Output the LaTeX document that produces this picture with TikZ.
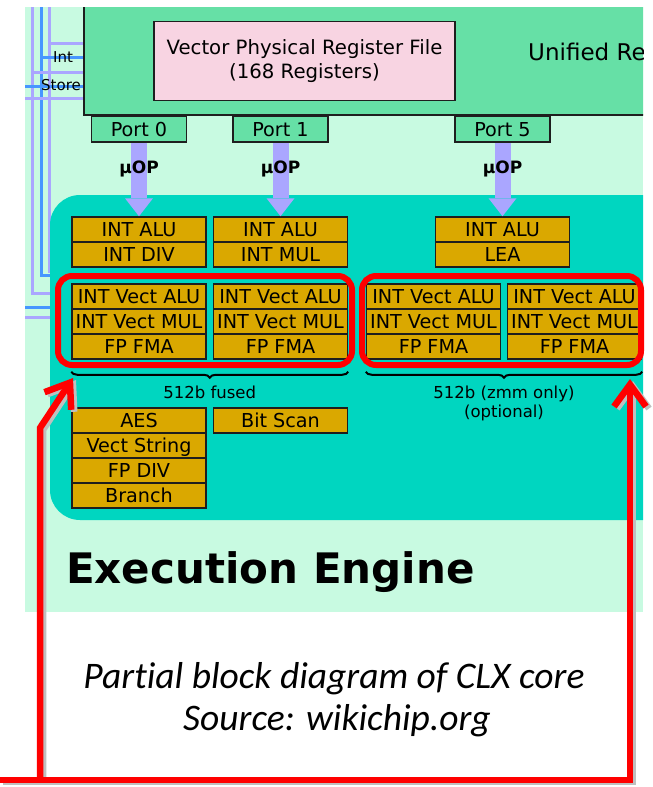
\documentclass[tikz,border=0pt]{standalone}
\usepackage{fontspec}
\setmainfont{DejaVu Sans}
\newfontfamily\captionfont[Ligatures=NoCommon]{Carlito}
\usetikzlibrary{arrows.meta,decorations.pathreplacing}

\definecolor{mint}{RGB}{200,250,225}
\definecolor{rfgreen}{RGB}{102,224,166}
\definecolor{rfpink}{RGB}{248,212,226}
\definecolor{engine}{RGB}{0,214,192}
\definecolor{gold}{RGB}{218,168,0}
\definecolor{lav}{RGB}{170,166,255}
\definecolor{busblue}{RGB}{70,150,255}
\definecolor{boxline}{RGB}{30,30,30}

\tikzset{
  unit/.style={draw=boxline, fill=gold, line width=1.5pt, minimum width=134pt,
    minimum height=25pt, inner sep=0pt, text height=14pt, text depth=0pt,
    font=\fontsize{19.2}{20}\selectfont},
  port/.style={draw=boxline, fill=rfgreen, line width=1.5pt, minimum width=95pt,
    minimum height=26pt, inner sep=0pt, text height=14pt, text depth=0pt,
    font=\fontsize{19.2}{20}\selectfont},
  uop/.style={draw=lav, line width=16pt,
    -{Triangle[length=18pt,width=28pt,line width=0pt]}},
  uoplabel/.style={inner sep=0pt, font=\bfseries\fontsize{17}{17}\selectfont},
  bus/.style={line width=3pt},
  note/.style={inner sep=0pt, align=center, font=\fontsize{16.5}{19.5}\selectfont},
  brace/.style={draw=black, line width=2pt,
    decorate, decoration={brace, mirror, amplitude=6pt}},
  hilite/.style={draw=red, line width=6pt, rounded corners=14pt},
  callout/.style={draw=red, line width=6.5pt, line join=miter,
    -{Straight Barb[length=22pt,width=32pt]}},
  calloutshadow/.style={callout, draw=black!25,
    transform canvas={xshift=3pt, yshift=-2pt}},
}

\begin{document}
\begin{tikzpicture}[x=1pt,y=-1pt]
\path[use as bounding box, fill=white] (0,0) rectangle (653,787);

\begin{scope}
\clip (25,7) rectangle (643,612);
\fill[mint] (25,7) rectangle (643,612);

% buses on the left
\draw[bus, lav] (32,7) -- (32,293) -- (50,293);
\draw[bus, busblue] (41,7) -- (41,275) -- (50,275);
\draw[bus, lav] (49,7) -- (49,273);
\draw[bus, lav] (49,43) -- (84,43);
\draw[bus, busblue] (41,57) -- (84,57);
\draw[bus, lav] (32,72) -- (84,72);
\draw[bus, busblue] (25,86) -- (84,86);
\draw[bus, lav] (25,98) -- (84,98);
\draw[bus, busblue] (25,307) -- (50,307);
\draw[bus, lav] (25,317) -- (50,317);
\node[inner sep=0pt, font=\fontsize{15}{15}\selectfont] (intlbl) at (63,57) {Int};
\node[inner sep=0pt, font=\fontsize{15}{15}\selectfont] (storelbl) at (61,85) {Store};

% register files
\filldraw[fill=rfgreen, draw=boxline, line width=1.8pt] (84,-10) rectangle (700,115);
\node[draw=boxline, fill=rfpink, line width=1.5pt, minimum width=301pt, minimum height=79pt,
  align=center, font=\fontsize{19.7}{24}\selectfont] (vprf) at (304.5,61)
  {Vector Physical Register File\\(168 Registers)};
\node[anchor=west, inner sep=0pt, font=\fontsize{23}{23}\selectfont] (urf) at (528,52) {Unified Re};

% execution engine
\fill[engine, rounded corners=30pt] (50,195) rectangle (720,520);

\node[port] (p0) at (139,129) {Port 0};
\node[port] (p1) at (280.5,129) {Port 1};
\node[port] (p5) at (502.5,129) {Port 5};

\node[unit] (alu0) at (139,229.5) {INT ALU};
\node[unit] (div0) at (139,254.5) {INT DIV};
\node[unit] (alu1) at (280.5,229.5) {INT ALU};
\node[unit] (mul1) at (280.5,254.5) {INT MUL};
\node[unit] (alu5) at (502.5,229.5) {INT ALU};
\node[unit] (lea5) at (502.5,254.5) {LEA};

\foreach \c/\x in {0/139, 1/280.5, 2/433.5, 3/574.5} {
  \node[unit] (va\c) at (\x,296.5) {INT Vect ALU};
  \node[unit] (vm\c) at (\x,321.5) {INT Vect MUL};
  \node[unit] (fma\c) at (\x,346.5) {FP FMA};
}

\node[unit] (aes) at (139,420.5) {AES};
\node[unit] (vstr) at (139,445.5) {Vect String};
\node[unit] (fdiv) at (139,470.5) {FP DIV};
\node[unit] (branch) at (139,495.5) {Branch};
\node[unit] (bscan) at (280.5,420.5) {Bit Scan};

\draw[uop] (p0) -- (alu0) node[pos=0.35, uoplabel] {µOP};
\draw[uop] (p1) -- (alu1) node[pos=0.35, uoplabel] {µOP};
\draw[uop] (p5) -- (alu5) node[pos=0.35, uoplabel] {µOP};

\draw[brace] ([yshift=-12pt]fma0.south west) -- ([yshift=-12pt]fma1.south east)
  node[midway, below=13pt, note] (fused) {512b fused};
\draw[brace] ([yshift=-12pt]fma2.south west) -- ([yshift=-12pt]fma3.south east)
  node[midway, below=13pt, note] (zmm) {512b (zmm only)\\(optional)};

\node[anchor=base west, inner sep=0pt, font=\bfseries\fontsize{42}{42}\selectfont]
  (ee) at (66,583) {Execution Engine};
\end{scope}

% red marks on top
\draw[hilite] (58,276) rectangle (352,365);
\draw[hilite] (362,276) rectangle (641,365);

\coordinate (c0) at (0,780);
\coordinate (cl) at (40,780);
\coordinate (cr) at (630,780);
\coordinate (bend) at (40,428);
\coordinate (tipl) at (73,378);
\coordinate (tipr) at (630,379);
\draw[calloutshadow] (cl) -- (bend) -- (tipl);
\draw[calloutshadow] (c0) -- (cr) -- (tipr);
\draw[callout] (cl) -- (bend) -- (tipl);
\draw[callout] (c0) -- (cr) -- (tipr);

\node[anchor=base, inner sep=0pt, font=\captionfont\itshape\fontsize{37.5}{42}\selectfont]
  (cap1) at (334,688) {Partial block diagram of CLX core};
\node[anchor=base, inner sep=0pt, font=\captionfont\itshape\fontsize{37.5}{42}\selectfont]
  (cap2) at (337,730) {Source: wikichip.org};
\end{tikzpicture}
\end{document}
